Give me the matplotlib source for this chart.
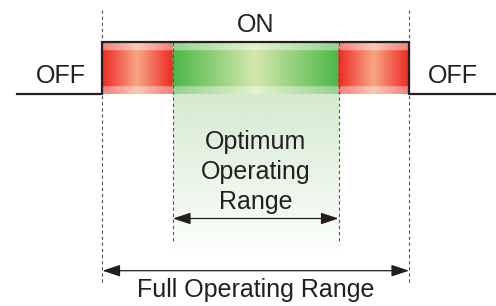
import numpy as np
import matplotlib
matplotlib.use("Agg")
import matplotlib.pyplot as plt

plt.rcParams['font.family'] = ['Liberation Sans', 'DejaVu Sans']

# ranges on a 0..100 scale, signal levels off/on
full_range = [0, 100]
optimum_range = [23, 77]
off_level, on_level = 0, 1
state_labels = ["OFF", "ON", "OFF"]
optimum_label = ["Optimum", "Operating", "Range"]
full_label = "Full Operating Range"

text_col = '#231f20'
red_edge, red_mid = np.array([238, 42, 36]), np.array([248, 165, 132])
green_edge, green_mid = np.array([76, 183, 72]), np.array([212, 232, 172])


def band_colour(x):
    # colour of the bar along x: red ends, green optimum part, light in middle
    if x < optimum_range[0] or x > optimum_range[1]:
        a, b = (full_range[0], optimum_range[0]) if x < optimum_range[0] else (optimum_range[1], full_range[1])
        e, m = red_edge, red_mid
    else:
        a, b = optimum_range
        e, m = green_edge, green_mid
    p = 1 - abs(2 * (x - a) / (b - a) - 1)
    return (e + (m - e) * p) / 255.0


fig = plt.figure(figsize=(4.96, 3.06), dpi=100)
ax = fig.add_axes([0, 0, 1, 1])
ax.axis('off')

# bar gradient image
xs = np.linspace(full_range[0], full_range[1], 700)
ys = np.linspace(off_level, on_level, 120)
img = np.zeros((len(ys), len(xs), 3))
cols = np.array([band_colour(x) for x in xs])
for i, y in enumerate(ys):
    if y < 0.148 or y > 0.846:
        img[i] = cols * 0.6 + 0.4
    else:
        img[i] = cols
ax.imshow(img, extent=(full_range[0], full_range[1], off_level, on_level),
          origin='lower', aspect='auto', interpolation='bilinear', zorder=2)

# faded green area below the optimum part
shade_bottom = -3.15
sh = np.zeros((100, 2, 4))
sh[:, :, :3] = np.array([213, 235, 208]) / 255.0
sh[:, :, 3] = np.linspace(0, 1, 100)[:, None]
ax.imshow(sh, extent=(optimum_range[0], optimum_range[1], shade_bottom, off_level),
          origin='lower', aspect='auto', interpolation='bilinear', zorder=1)

# dashed guide lines
for x in full_range:
    ax.plot([x, x], [1.615, -3.673], color='#555555', lw=0.8, dashes=(3, 2.5), zorder=3)
for x in optimum_range:
    ax.plot([x, x], [on_level, -2.827], color='#555555', lw=0.8, dashes=(3, 2.5), zorder=3)

# signal step line
sx = [-27.9, full_range[0], full_range[0], full_range[1], full_range[1], 130]
sy = [off_level, off_level, on_level, on_level, off_level, off_level]
ax.plot(sx, sy, color='#231f20', lw=1.6, solid_joinstyle='miter', zorder=4)

# range arrows
arrow = dict(arrowstyle='<|-|>,head_length=0.6,head_width=0.2', color='#231f20',
             lw=0.9, shrinkA=0, shrinkB=0, mutation_scale=18)
ax.annotate('', xy=(optimum_range[0], -2.394), xytext=(optimum_range[1], -2.394),
            arrowprops=arrow, zorder=5)
ax.annotate('', xy=(full_range[0], -3.398), xytext=(full_range[1], -3.398),
            arrowprops=arrow, zorder=5)

# labels
mid = np.mean(full_range)
ax.text(-13.5, 0.206, state_labels[0], fontsize=18, color=text_col, ha='center', va='baseline')
ax.text(mid, 1.202, state_labels[1], fontsize=18, color=text_col, ha='center', va='baseline')
ax.text(114.2, 0.206, state_labels[2], fontsize=18, color=text_col, ha='center', va='baseline')
for i, line in enumerate(optimum_label):
    ax.text(mid, -1.063 - i * 0.577, line, fontsize=18, color=text_col,
            ha='center', va='baseline', zorder=5)
ax.text(mid, -3.904, full_label, fontsize=18, color=text_col, ha='center', va='baseline')

ax.set_xlim(-33.44, 128.38)
ax.set_ylim(-4.077, 1.808)

fig.savefig('out.png', dpi=100)
